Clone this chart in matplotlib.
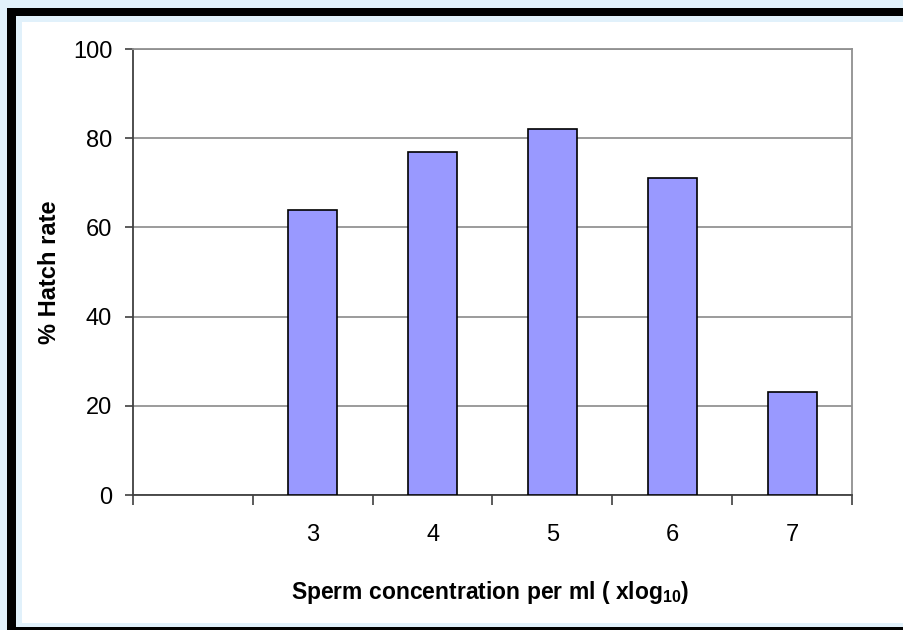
import matplotlib
matplotlib.use("Agg")
import matplotlib.pyplot as plt
import numpy as np
from matplotlib.patches import Rectangle

plt.rcParams['font.family'] = ['Liberation Sans', 'DejaVu Sans']
plt.rcParams['mathtext.fontset'] = 'custom'
plt.rcParams['mathtext.rm'] = 'Liberation Sans'
plt.rcParams['mathtext.bf'] = 'Liberation Sans:bold'

categories = ['', '3', '4', '5', '6', '7']
hatch_rate = [np.nan, 64, 77, 82, 71, 23]
y_ticks = [0, 20, 40, 60, 80, 100]

W, H = 904, 630
fig = plt.figure(figsize=(W / 100, H / 100), dpi=100)
fig.patch.set_facecolor('#E1F1FB')

def fr(x0, y0, x1, y1, color):
    fig.patches.append(Rectangle((x0 / W, 1 - y1 / H), (x1 - x0) / W, (y1 - y0) / H,
                                 transform=fig.transFigure, facecolor=color,
                                 edgecolor='none', zorder=-10))

fr(7, 8, W + 5, H + 5, '#000000')
fr(16, 16, W + 5, 627, '#E1F1FB')
fr(22, 22, 903, 623, '#FFFFFF')

left, right, top, bottom = 133, 852, 49, 495
ax = fig.add_axes([left / W, 1 - bottom / H, (right - left) / W, (bottom - top) / H])
ax.set_facecolor('white')

x = np.arange(len(categories))
ax.bar(x, hatch_rate, width=0.41, color='#9999FF', edgecolor='black', linewidth=1.2, zorder=3)

ax.set_xlim(-0.5, len(categories) - 0.5)
ax.set_ylim(0, 100)
ax.set_yticks(y_ticks)
ax.set_yticklabels([str(v) for v in y_ticks], fontsize=17)
ax.yaxis.grid(True, color='#808080', linewidth=1.1, zorder=0)
ax.set_axisbelow(True)

ax.set_xticks(x)
ax.set_xticklabels(categories, fontsize=17)
ax.tick_params(axis='x', which='major', length=0, pad=21)
ax.set_xticks(np.arange(-0.5, len(categories), 1.0), minor=True)
ax.tick_params(axis='x', which='minor', length=7, width=1.2, color='#404040', direction='out')
ax.tick_params(axis='y', which='major', length=6, width=1.2, color='#404040', direction='out', pad=9)

for s in ['top', 'right']:
    ax.spines[s].set_color('#909090')
    ax.spines[s].set_linewidth(1.3)
for s in ['left', 'bottom']:
    ax.spines[s].set_color('#404040')
    ax.spines[s].set_linewidth(1.3)

fig.text(490 / W, 1 - 592 / H, r'Sperm concentration per ml ( xlog$_{\mathbf{10}}$)',
         fontsize=16.5, fontweight='bold', ha='center', va='center')
fig.text(50 / W, 1 - 272 / H, '% Hatch rate', fontsize=17, fontweight='bold',
         ha='center', va='center', rotation=90)

fig.savefig('out.png', dpi=100, facecolor=fig.get_facecolor())
